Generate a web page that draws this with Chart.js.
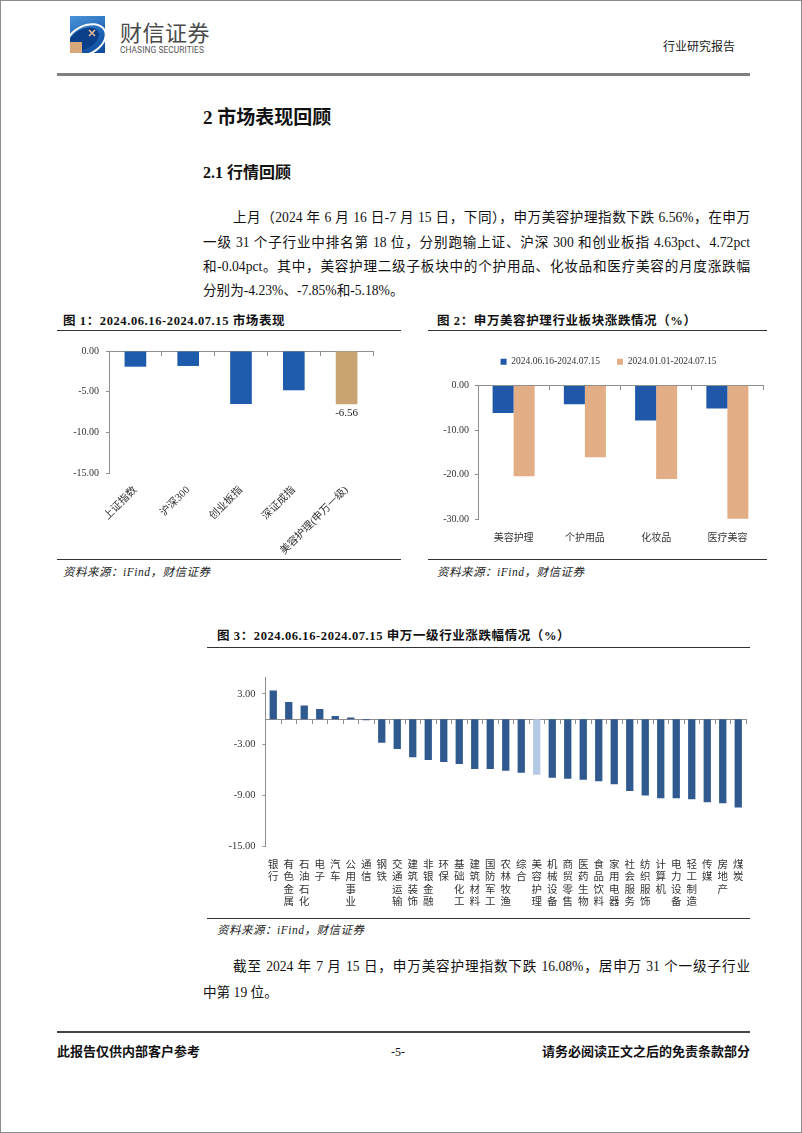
<!DOCTYPE html>
<html><head><meta charset="utf-8">
<script src="https://cdn.jsdelivr.net/npm/chart.js@4.4.1/dist/chart.umd.min.js"></script>
<style>
html,body{margin:0;padding:0;background:#fff;}
body{width:802px;height:1133px;position:relative;overflow:hidden;font-family:"Liberation Serif","Noto Sans CJK SC",serif;color:#111;}
.frame{position:absolute;left:0;top:0;width:800px;height:1131px;border:1px solid #8c8c8c;}
.abs{position:absolute;white-space:nowrap;}
.line{position:absolute;}
.para{position:absolute;left:203px;width:547px;font-size:13.6px;line-height:20px;white-space:nowrap;text-align:justify;text-align-last:justify;}
.ctitle{font-weight:bold;font-size:12.5px;line-height:16px;letter-spacing:0.6px;}
.src{font-style:italic;font-size:11.5px;line-height:14px;color:#222;letter-spacing:0.5px;}
canvas{position:absolute;}
.logo{position:absolute;left:70px;top:16px;width:35px;height:37px;overflow:hidden;background:linear-gradient(160deg,#4b95db 0%,#1f63b5 55%,#0f4a98 100%);}
.l-ring{position:absolute;left:-6px;top:9px;width:40px;height:26px;border-radius:50%;border:2px solid #fff;transform:rotate(-28deg);}
.l-dark{position:absolute;left:-2px;top:13px;width:32px;height:20px;border-radius:50%;background:#0c3f8a;transform:rotate(-28deg);}
.l-tan{position:absolute;left:0;top:26px;width:12px;height:12px;background:#d8a77a;}
.l-star{position:absolute;left:18px;top:13px;width:8px;height:8px;}
</style>
</head><body>
<div class="frame"></div>

<div class="logo"><div class="l-ring"></div><div class="l-dark"></div><div class="l-tan"></div>
<svg class="l-star" viewBox="0 0 8 8"><path d="M1 1 L7 7 M7 1 L1 7" stroke="#e9b98c" stroke-width="1.6"/></svg></div>
<div class="abs" style="left:120px;top:17px;font-family:'Noto Sans CJK SC';font-size:22px;line-height:28px;color:#4a4a4a;letter-spacing:0.5px;">财信证券</div>
<div class="abs" style="left:120px;top:45px;font-family:Roboto,'Noto Sans';font-size:8.3px;line-height:11px;color:#555;letter-spacing:0.1px;">CHASING SECURITIES</div>
<div class="abs" style="left:663px;top:39px;font-size:12px;line-height:16px;color:#222;">行业研究报告</div>
<div class="line" style="left:57px;top:73px;width:693px;height:3px;background:#7f7f7f;"></div>

<div class="abs" style="left:203px;top:106px;font-size:19px;font-weight:bold;line-height:24px;">2 市场表现回顾</div>
<div class="abs" style="left:203px;top:163px;font-size:16px;font-weight:bold;line-height:20px;">2.1 行情回顾</div>

<div class="para" style="top:208px;padding-left:30px;width:517px;">上月（2024 年 6 月 16 日-7 月 15 日，下同），申万美容护理指数下跌 6.56%，在申万</div>
<div class="para" style="top:233px;">一级 31 个子行业中排名第 18 位，分别跑输上证、沪深 300 和创业板指 4.63pct、4.72pct</div>
<div class="para" style="top:257px;">和-0.04pct。其中，美容护理二级子板块中的个护用品、化妆品和医疗美容的月度涨跌幅</div>
<div class="para" style="top:281px;text-align:left;text-align-last:left;">分别为-4.23%、-7.85%和-5.18%。</div>

<!-- chart 1 frame -->
<div class="abs ctitle" style="left:63px;top:313px;">图 1：2024.06.16-2024.07.15 市场表现</div>
<div class="line" style="left:57px;top:330px;width:344px;height:1px;background:#333;"></div>
<div class="line" style="left:57px;top:559px;width:344px;height:1px;background:#333;"></div>
<div class="abs src" style="left:63px;top:565px;">资料来源：iFind，财信证券</div>
<canvas id="c1" width="343" height="225" style="left:57px;top:335px;"></canvas>

<!-- chart 2 frame -->
<div class="abs ctitle" style="left:437px;top:313px;">图 2：申万美容护理行业板块涨跌情况（%）</div>
<div class="line" style="left:428px;top:330px;width:339px;height:1px;background:#333;"></div>
<div class="line" style="left:428px;top:559px;width:339px;height:1px;background:#333;"></div>
<div class="abs src" style="left:437px;top:565px;">资料来源：iFind，财信证券</div>
<canvas id="c2" width="361" height="220" style="left:428px;top:338px;"></canvas>

<!-- chart 3 frame -->
<div class="abs ctitle" style="left:217px;top:628px;">图 3：2024.06.16-2024.07.15 申万一级行业涨跌幅情况（%）</div>
<div class="line" style="left:207px;top:647px;width:543px;height:1px;background:#333;"></div>
<div class="line" style="left:207px;top:918px;width:543px;height:1px;background:#333;"></div>
<div class="abs src" style="left:217px;top:923px;">资料来源：iFind，财信证券</div>
<canvas id="c3" width="543" height="255" style="left:207px;top:660px;"></canvas>

<div class="para" style="top:957px;padding-left:30px;width:517px;">截至 2024 年 7 月 15 日，申万美容护理指数下跌 16.08%，居申万 31 个一级子行业</div>
<div class="para" style="top:983px;text-align:left;text-align-last:left;">中第 19 位。</div>

<div class="line" style="left:57px;top:1031px;width:693px;height:2px;background:#444;"></div>
<div class="abs" style="left:57px;top:1044px;font-size:13px;font-weight:bold;line-height:16px;">此报告仅供内部客户参考</div>
<div class="abs" style="left:391px;top:1044px;font-size:12px;line-height:16px;">-5-</div>
<div class="abs" style="right:52px;top:1044px;font-size:13px;font-weight:bold;line-height:16px;">请务必阅读正文之后的免责条款部分</div>

<script>
// ---------- data ----------
const cats1 = ['上证指数', '沪深300', '创业板指', '深证成指', '美容护理(申万一级)'];
const vals1 = [-1.93, -1.84, -6.52, -4.83, -6.56];
const yTicks1 = [0, -5, -10, -15];
const labelledIndex1 = 4;

const cats2 = ['美容护理', '个护用品', '化妆品', '医疗美容'];
const seriesNames2 = ['2024.06.16-2024.07.15', '2024.01.01-2024.07.15'];
const monthVals2 = [-6.2, -4.23, -7.85, -5.18];
const ytdVals2 = [-20.4, -16.1, -21.0, -29.95];
const yTicks2 = [0, -10, -20, -30];

const cats3 = ['银行', '有色金属', '石油石化', '电子', '汽车', '公用事业', '通信', '钢铁', '交通运输', '建筑装饰',
  '非银金融', '环保', '基础化工', '建筑材料', '国防军工', '农林牧渔', '综合', '美容护理', '机械设备', '商贸零售',
  '医药生物', '食品饮料', '家用电器', '社会服务', '纺织服饰', '计算机', '电力设备', '轻工制造', '传媒', '房地产', '煤炭'];
const vals3 = [3.40, 2.05, 1.62, 1.22, 0.39, 0.20, -0.12, -2.78, -3.53, -4.51,
  -4.83, -5.07, -5.31, -5.90, -5.90, -6.10, -6.34, -6.56, -6.93, -7.05,
  -7.17, -7.33, -7.68, -8.48, -9.03, -9.35, -9.35, -9.47, -9.82, -9.94, -10.45];
const yTicks3 = [3, -3, -9, -15];
const highlight3 = '美容护理';

// ---------- setup ----------
Chart.defaults.font.family = '"Liberation Serif","Noto Sans CJK SC",serif';
Chart.defaults.color = '#333';
Chart.defaults.animation = false;
Chart.defaults.responsive = false;
Chart.defaults.devicePixelRatio = 1;
Chart.defaults.plugins.tooltip.enabled = false;

const AX = '#8f8f8f';
const fmt2 = v => Number(v).toFixed(2);
const setTicks = arr => (s => { s.ticks = arr.map(v => ({value: v})); });

function zeroAxis(labels) {
  return {
    type: 'category', axis: 'x', labels: labels, position: {y: 0}, offset: true,
    grid: {offset: true, drawOnChartArea: false, tickLength: 4, color: AX},
    border: {color: AX, width: 1},
    ticks: {display: false}
  };
}

// chart 1
const valueLabel = {
  id: 'valueLabel',
  afterDatasetsDraw(chart) {
    const el = chart.getDatasetMeta(0).data[labelledIndex1];
    const c = chart.ctx;
    c.save();
    c.font = '11px "Liberation Serif"';
    c.fillStyle = '#222';
    c.textAlign = 'center';
    c.textBaseline = 'middle';
    c.fillText(fmt2(vals1[labelledIndex1]), el.x, el.y + 9);
    c.restore();
  }
};
new Chart(document.getElementById('c1'), {
  type: 'bar',
  data: {labels: cats1, datasets: [{
    data: vals1,
    backgroundColor: cats1.map((c, i) => i === labelledIndex1 ? '#C9A472' : '#1E5BAD'),
    barPercentage: 0.41, categoryPercentage: 1
  }]},
  options: {
    layout: {padding: {top: 16, right: 27, left: 0, bottom: 0}},
    plugins: {legend: {display: false}},
    scales: {
      x: {grid: {display: false}, border: {display: false},
          ticks: {autoSkip: false, maxRotation: 45, minRotation: 45, padding: 3, font: {size: 10.5}, color: '#333'},
          afterFit: s => { s.height = 87; }},
      x0: zeroAxis(cats1),
      y: {min: -15, max: 0, afterBuildTicks: setTicks(yTicks1),
          grid: {drawOnChartArea: false, tickLength: 3, color: AX}, border: {color: AX},
          ticks: {padding: 7, callback: fmt2, font: {size: 10}, color: '#333'},
          afterFit: s => { s.width = 52; }}
    }
  },
  plugins: [valueLabel]
});

// chart 2
const legendGap = {
  id: 'legendGap',
  beforeLayout(chart, args, opts) {
    const lg = chart.legend;
    if (lg && !lg.__gap) {
      const f = lg.fit;
      lg.fit = function () { f.call(this); this.height += opts.extra; };
      lg.__gap = true;
    }
  }
};
new Chart(document.getElementById('c2'), {
  type: 'bar',
  data: {labels: cats2, datasets: [
    {label: seriesNames2[0], data: monthVals2, backgroundColor: '#1F58A8', barPercentage: 1, categoryPercentage: 0.59},
    {label: seriesNames2[1], data: ytdVals2, backgroundColor: '#E3AD86', barPercentage: 1, categoryPercentage: 0.59}
  ]},
  options: {
    layout: {padding: {top: 2, right: 0, left: 0, bottom: 0}},
    plugins: {
      legend: {display: true, position: 'top',
        labels: {boxWidth: 6, boxHeight: 6, padding: 17, font: {size: 9.5}, color: '#333'}},
      legendGap: {extra: 9}
    },
    scales: {
      x: {grid: {display: false}, border: {display: false},
          ticks: {padding: 5, font: {size: 10}, color: '#333'},
          afterFit: s => { s.height = 39; }},
      x0: zeroAxis(cats2),
      y: {min: -30, max: 0, afterBuildTicks: setTicks(yTicks2),
          grid: {drawOnChartArea: false, tickLength: 3, color: AX}, border: {color: AX},
          ticks: {padding: 6, callback: fmt2, font: {size: 10}, color: '#333'},
          afterFit: s => { s.width = 50; }},
      yR: {type: 'linear', axis: 'y', position: 'right', display: true,
          grid: {display: false}, border: {display: false}, ticks: {display: false},
          afterFit: s => { s.width = 26; }}
    }
  },
  plugins: [legendGap]
});

// chart 3
const labels3 = cats3.map(c => Array.from(c));
new Chart(document.getElementById('c3'), {
  type: 'bar',
  data: {labels: labels3, datasets: [{
    data: vals3,
    backgroundColor: cats3.map(c => c === highlight3 ? '#B4C9E4' : '#30598F'),
    barPercentage: 0.47, categoryPercentage: 1
  }]},
  options: {
    layout: {padding: {top: 17, right: 4, left: 0, bottom: 0}},
    plugins: {legend: {display: false}},
    scales: {
      x: {grid: {display: false}, border: {display: false},
          ticks: {autoSkip: false, maxRotation: 0, minRotation: 0, padding: 5, font: {size: 10.5, lineHeight: 1.18}, color: '#333'},
          afterFit: s => { s.height = 69; }},
      x0: zeroAxis(labels3),
      y: {min: -15, max: 5, afterBuildTicks: setTicks(yTicks3),
          grid: {drawOnChartArea: false, tickLength: 3, color: AX}, border: {color: AX},
          ticks: {padding: 7, callback: fmt2, font: {size: 10.5}, color: '#333'},
          afterFit: s => { s.width = 58.5; }}
    }
  }
});
</script>
</body></html>
